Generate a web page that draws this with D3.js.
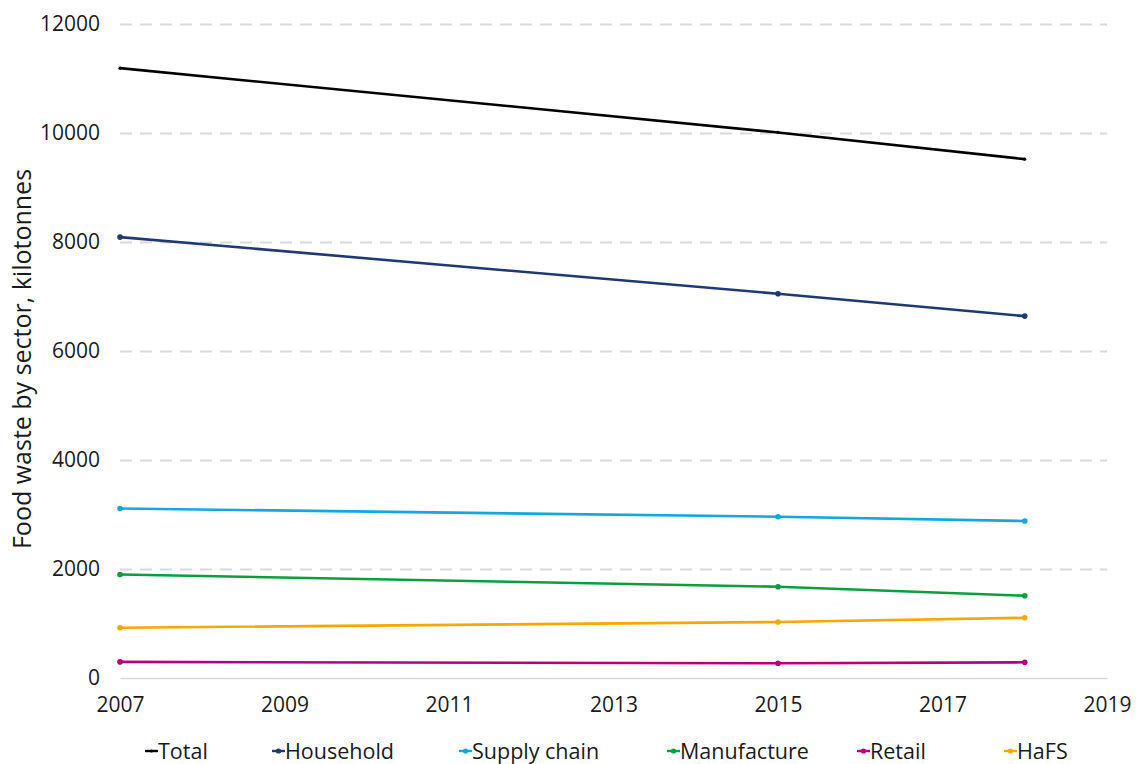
<!DOCTYPE html>
<html>
<head>
<meta charset="utf-8">
<script src="https://cdn.jsdelivr.net/npm/d3@7"></script>
<style>
  html, body { margin: 0; padding: 0; background: #fff; }
  svg { display: block; font-family: "Open Sans", Lato, sans-serif; }
</style>
</head>
<body>
<svg id="chart" width="1139" height="764"></svg>
<script>
// Food waste by sector (kilotonnes), UK survey years
const years = [2007, 2015, 2018];
const seriesNames = ["Total", "Household", "Supply chain", "Manufacture", "Retail", "HaFS"];
const seriesColors = ["#000000", "#1f3a73", "#12a7dd", "#0b9e3f", "#b8007a", "#f6a800"];
const total       = [11190, 10010, 9520];
const household   = [8090, 7050, 6640];
const supplyChain = [3110, 2960, 2880];
const manufacture = [1900, 1675, 1510];
const retail      = [295, 270, 288];
const hafs        = [922, 1027, 1105];
const yTicks = [0, 2000, 4000, 6000, 8000, 10000, 12000];
const xTicks = [2007, 2009, 2011, 2013, 2015, 2017, 2019];

const seriesValues = [total, household, supplyChain, manufacture, retail, hafs];
const series = seriesNames.map((name, i) => ({
  name, color: seriesColors[i],
  points: years.map((yr, j) => ({ year: yr, value: seriesValues[i][j] }))
}));

const svg = d3.select("#chart");
const margin = { left: 120, right: 32, top: 24, bottom: 86 };
const W = 1139, H = 764;
const textColor = "#1a1a1a";

const x = d3.scaleLinear().domain([2007, 2019]).range([margin.left, W - margin.right]);
const y = d3.scaleLinear().domain([0, 12000]).range([H - margin.bottom, margin.top]);

// horizontal dashed gridlines
const grid = svg.append("g")
  .attr("transform", `translate(${margin.left},0)`)
  .call(d3.axisLeft(y).tickValues(yTicks.filter(d => d > 0)).tickSize(-(x.range()[1] - x.range()[0])).tickFormat(""));
grid.select(".domain").remove();
grid.selectAll("line").attr("stroke", "#d9d9d9").attr("stroke-width", 2).attr("stroke-dasharray", "12,8");

// y axis labels
const yAxis = svg.append("g")
  .attr("transform", `translate(${margin.left},0)`)
  .call(d3.axisLeft(y).tickValues(yTicks).tickSize(0).tickPadding(20).tickFormat(d3.format("d")));
yAxis.select(".domain").remove();
yAxis.selectAll("text").attr("font-size", 21).attr("fill", textColor).attr("font-family", "'Open Sans', sans-serif");

// x axis baseline and labels
const xAxis = svg.append("g")
  .attr("transform", `translate(0,${y(0)})`)
  .call(d3.axisBottom(x).tickValues(xTicks).tickSize(0).tickPadding(19).tickFormat(d3.format("d")));
xAxis.select(".domain").attr("stroke", "#d9d9d9").attr("stroke-width", 1.5);
xAxis.selectAll("text").attr("font-size", 21).attr("fill", textColor).attr("font-family", "'Open Sans', sans-serif");

// y axis title
svg.append("text")
  .attr("transform", `translate(31,${(y(0) + y(12000)) / 2 + 8}) rotate(-90)`)
  .attr("text-anchor", "middle")
  .attr("font-size", 25)
  .attr("fill", textColor)
  .text("Food waste by sector, kilotonnes");

// lines with point markers
const line = d3.line().x(d => x(d.year)).y(d => y(d.value));
const g = svg.append("g");
series.forEach(s => {
  g.append("path")
    .datum(s.points)
    .attr("fill", "none")
    .attr("stroke", s.color)
    .attr("stroke-width", 2.6)
    .attr("d", line);
  g.selectAll(null)
    .data(s.points)
    .join("circle")
    .attr("cx", d => x(d.year))
    .attr("cy", d => y(d.value))
    .attr("r", s.name === "Total" ? 1.6 : 2.8)
    .attr("fill", s.color);
});

// legend
const legendX = [145, 272, 459, 667, 857, 1004];
const legend = svg.append("g").attr("transform", "translate(0,751)");
series.forEach((s, i) => {
  const lg = legend.append("g").attr("transform", `translate(${legendX[i]},0)`);
  lg.append("line").attr("x1", 0).attr("x2", 13).attr("y1", 0).attr("y2", 0)
    .attr("stroke", s.color).attr("stroke-width", 2.4);
  lg.append("circle").attr("cx", 6.5).attr("cy", 0).attr("r", s.name === "Total" ? 1.6 : 2.6).attr("fill", s.color);
  lg.append("text").attr("x", 13).attr("y", 8).attr("font-size", 21.5).attr("fill", textColor).text(s.name);
});
</script>
</body>
</html>
